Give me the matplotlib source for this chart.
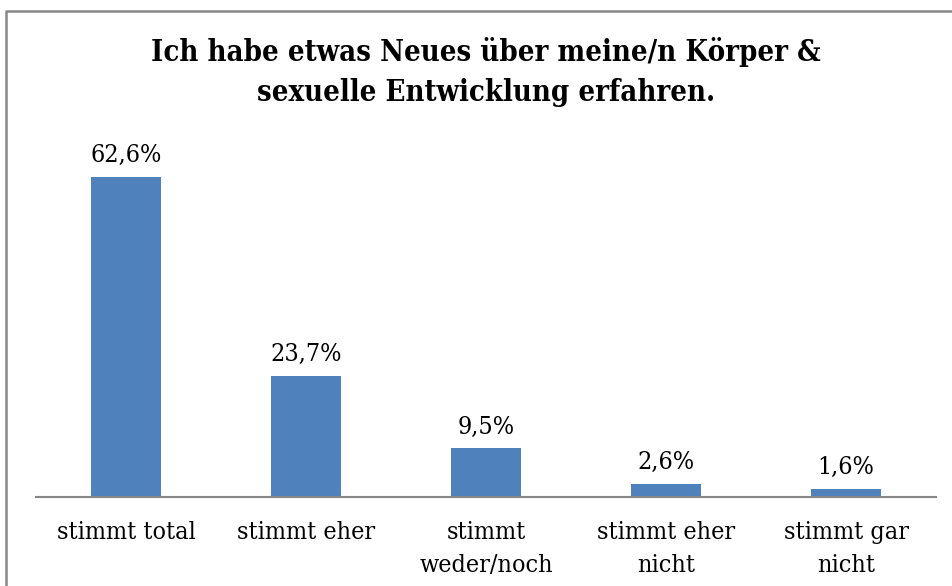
import matplotlib
matplotlib.use("Agg")
import matplotlib.pyplot as plt
from matplotlib.lines import Line2D

categories = ["stimmt total", "stimmt eher", "stimmt\nweder/noch", "stimmt eher\nnicht", "stimmt gar\nnicht"]
values = [62.6, 23.7, 9.5, 2.6, 1.6]
labels = ["62,6%", "23,7%", "9,5%", "2,6%", "1,6%"]
title = "Ich habe etwas Neues über meine/n Körper &\nsexuelle Entwicklung erfahren."

W, H = 952, 586
fig = plt.figure(figsize=(W/100, H/100), dpi=100)
ax_left, ax_right = 36/W, 936/W
ax_bottom = (H-497)/H
ax_top = (H-139)/H
ax = fig.add_axes([ax_left, ax_bottom, ax_right-ax_left, ax_top-ax_bottom])

font = dict(family="DejaVu Serif", stretch="condensed")
x = list(range(len(categories)))
ax.bar(x, values, width=0.39, color="#4F81BD")
ax.set_xlim(-0.5, len(categories)-0.5)
ax.set_ylim(0, 70)
for xi, v, l in zip(x, values, labels):
    ax.annotate(l, (xi, v), xytext=(0, 7), textcoords="offset points",
                ha="center", va="bottom", fontsize=18, **font)
ax.set_xticks(x)
ax.set_xticklabels(categories, fontsize=18, linespacing=1.6, **font)
ax.tick_params(axis="x", length=0, pad=17)
ax.set_yticks([])
for s in ["left", "right", "top"]:
    ax.spines[s].set_visible(False)
ax.spines["bottom"].set_color("#868686")
ax.spines["bottom"].set_linewidth(1.5)

fig.text(486/W, 1-72/H, title, ha="center", va="center", fontsize=21, fontweight="bold",
         linespacing=1.45, **font)

fig.add_artist(Line2D([6/W, 6/W, 1], [0, 1-11/H, 1-11/H], transform=fig.transFigure,
                      color="#888888", linewidth=1.8))

fig.savefig("out.png", dpi=100)
